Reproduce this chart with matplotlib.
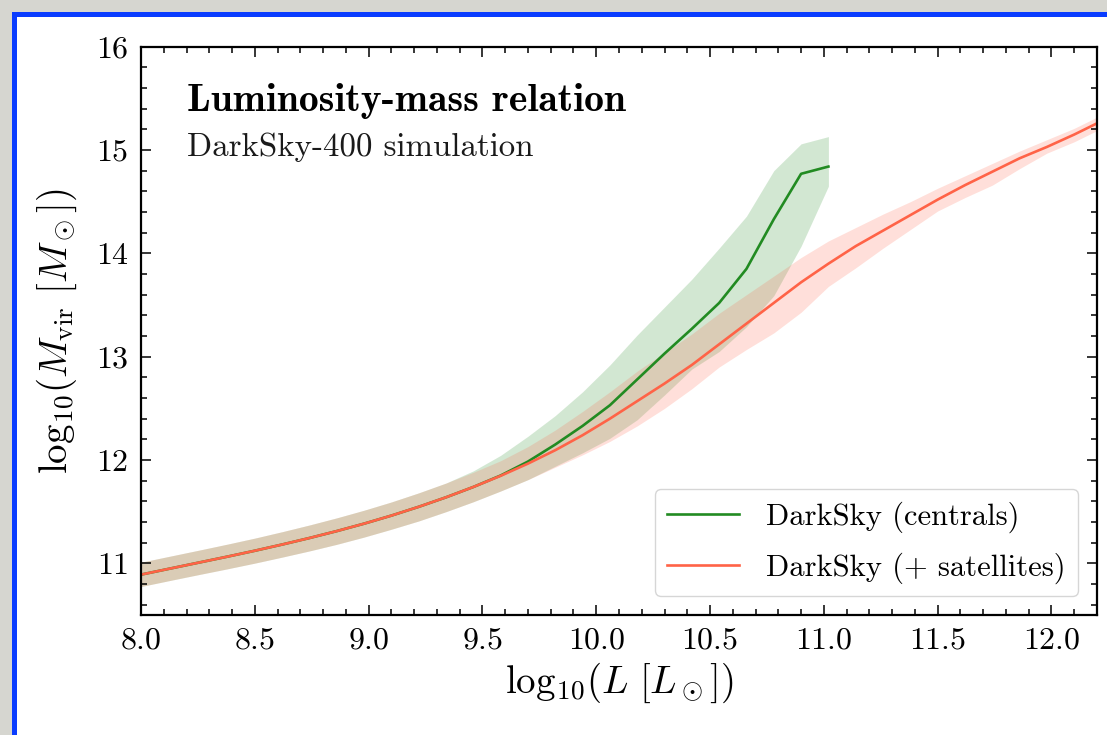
import numpy as np
import matplotlib
matplotlib.use('Agg')
from matplotlib import pyplot as plt
from matplotlib.patches import Rectangle

plt.rcParams['font.family'] = 'serif'
plt.rcParams['font.serif'] = ['cmr10']
plt.rcParams['mathtext.fontset'] = 'cm'
plt.rcParams['axes.formatter.use_mathtext'] = True

# luminosity grid (log10 L)
logL_cen = [7.90, 8.02, 8.14, 8.26, 8.38, 8.50, 8.62, 8.74, 8.86, 8.98, 9.10, 9.22, 9.34,
            9.46, 9.58, 9.70, 9.82, 9.94, 10.06, 10.18, 10.30, 10.42, 10.54, 10.66,
            10.78, 10.90, 11.02]
logL_sat = logL_cen + [11.14, 11.26, 11.38, 11.50, 11.62, 11.74, 11.86, 11.98, 12.10, 12.22]

# centrals: median and band
cen_mid = [10.845, 10.900, 10.955, 11.010, 11.065, 11.122, 11.182, 11.245, 11.312, 11.384,
           11.462, 11.547, 11.639, 11.739, 11.850, 11.985, 12.15, 12.33, 12.53, 12.78,
           13.03, 13.27, 13.52, 13.85, 14.33, 14.77, 14.84]
cen_hi = [10.965, 11.020, 11.075, 11.130, 11.186, 11.244, 11.306, 11.371, 11.440, 11.514,
          11.594, 11.682, 11.777, 11.895, 12.045, 12.23, 12.43, 12.66, 12.92, 13.21,
          13.48, 13.75, 14.05, 14.36, 14.80, 15.06, 15.13]
cen_lo = [10.730, 10.785, 10.840, 10.894, 10.947, 11.002, 11.060, 11.120, 11.184, 11.254,
          11.330, 11.410, 11.500, 11.596, 11.700, 11.81, 11.94, 12.07, 12.21, 12.39,
          12.63, 12.88, 13.05, 13.29, 13.59, 14.07, 14.65]

# centrals + satellites
sat_mid = [10.845, 10.900, 10.955, 11.010, 11.065, 11.122, 11.182, 11.245, 11.312, 11.384,
           11.462, 11.547, 11.639, 11.739, 11.847, 11.965, 12.095, 12.24, 12.40, 12.57,
           12.74, 12.92, 13.12, 13.32, 13.52, 13.72, 13.90, 14.07, 14.22, 14.37, 14.52,
           14.66, 14.79, 14.92, 15.03, 15.15, 15.28]
sat_hi = [10.965, 11.020, 11.075, 11.130, 11.186, 11.244, 11.306, 11.371, 11.440, 11.514,
          11.594, 11.682, 11.777, 11.881, 11.993, 12.13, 12.29, 12.47, 12.66, 12.86,
          13.04, 13.22, 13.42, 13.60, 13.78, 13.96, 14.12, 14.25, 14.38, 14.50, 14.63,
          14.75, 14.87, 14.99, 15.10, 15.21, 15.34]
sat_lo = [10.730, 10.785, 10.840, 10.894, 10.947, 11.002, 11.060, 11.120, 11.184, 11.254,
          11.330, 11.410, 11.500, 11.596, 11.700, 11.81, 11.93, 12.05, 12.18, 12.33,
          12.50, 12.69, 12.90, 13.07, 13.23, 13.43, 13.68, 13.86, 14.05, 14.23, 14.41,
          14.54, 14.66, 14.82, 14.97, 15.08, 15.21]

fig = plt.figure(figsize=(11.07, 7.35), dpi=100)
fig.patch.set_facecolor('#d6d6d0')
W, H = 1107., 735.
fig.patches.append(Rectangle((12/W, 0), 1, 1 - 12/H, transform=fig.transFigure,
                             facecolor='#0a3cff', edgecolor='none', zorder=-2))
fig.patches.append(Rectangle((17/W, 0), 1, 1 - 17/H, transform=fig.transFigure,
                             facecolor='white', edgecolor='none', zorder=-1))

ax = fig.add_axes([141/W, 120/H, 956/W, 568.3/H])

ax.fill_between(logL_cen, cen_lo, cen_hi, color='forestgreen', alpha=0.2, lw=0)
ax.fill_between(logL_sat, sat_lo, sat_hi, color='tomato', alpha=0.2, lw=0)
ax.plot(logL_cen, cen_mid, color='forestgreen', lw=1.9, label='DarkSky (centrals)')
ax.plot(logL_sat, sat_mid, color='tomato', lw=1.9, label='DarkSky (+ satellites)')

ax.set_xlim(8.0, 12.2)
ax.set_ylim(10.5, 16)
ax.set_xticks([8.0, 8.5, 9.0, 9.5, 10.0, 10.5, 11.0, 11.5, 12.0])
ax.set_xticks(np.arange(8.0, 12.21, 0.1), minor=True)
ax.set_yticks([11, 12, 13, 14, 15, 16])
ax.set_yticks(np.arange(10.6, 16.01, 0.2), minor=True)
ax.tick_params(which='both', direction='in', top=True, right=True, labelsize=23, width=1.1)
ax.tick_params(which='major', length=7, pad=9)
ax.tick_params(which='minor', length=4)
for s in ax.spines.values():
    s.set_linewidth(1.6)

ax.set_xlabel(r'$\mathrm{log}_{10}(L\ [L_\odot])$', fontsize=28, labelpad=4)
ax.set_ylabel(r'$\mathrm{log}_{10}(M_{\rm vir}\ [M_\odot])$', fontsize=28, labelpad=12)

ax.text(0.048, 0.886, 'Luminosity-mass relation', transform=ax.transAxes,
        fontsize=28.5, fontname='cmb10', va='baseline')
ax.text(0.048, 0.808, 'DarkSky-400 simulation', transform=ax.transAxes,
        fontsize=23.7, va='baseline', color='#1a1a1a')

leg = ax.legend(loc='lower right', fontsize=22, frameon=True, fancybox=True,
                handlelength=2.35, handletextpad=0.9, borderpad=0.4,
                labelspacing=0.65, borderaxespad=0.62)
leg.get_frame().set_edgecolor('#cccccc')

fig.savefig('out.png', dpi=100, facecolor=fig.get_facecolor())
